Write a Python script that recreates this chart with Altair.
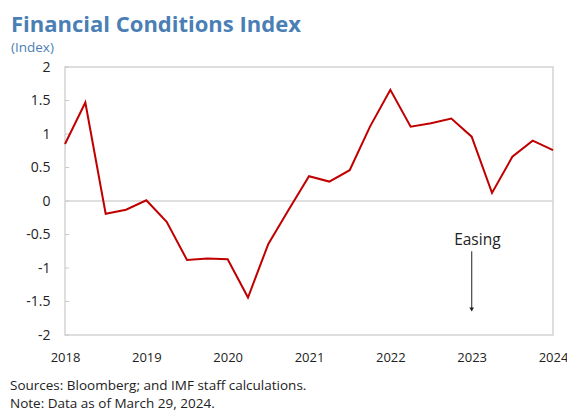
import altair as alt
import pandas as pd

# ---- data ----
quarters = [2018.0 + 0.25 * i for i in range(25)]
fci = [0.85, 1.47, -0.19, -0.13, 0.01, -0.31, -0.88, -0.86, -0.87, -1.44,
       -0.64, -0.13, 0.37, 0.29, 0.46, 1.11, 1.66, 1.11, 1.16, 1.23,
       0.96, 0.12, 0.66, 0.90, 0.76]
x_ticks = [2018, 2019, 2020, 2021, 2022, 2023, 2024]
y_ticks = [-2, -1.5, -1, -0.5, 0, 0.5, 1, 1.5, 2]

title_text = "Financial Conditions Index"
subtitle_text = "(Index)"
source_text = "Sources: Bloomberg; and IMF staff calculations."
note_text = "Note: Data as of March 29, 2024."
easing_text = ["Easing"]
easing_x = [2023.07]
easing_y = [-0.58]
arrow_x = [2023.0]
arrow_top = [-0.75]
arrow_bottom = [-1.62]

FONT = "Open Sans"
BLUE = "#4a7fb5"
GRAY = "#d4d4d4"

df = pd.DataFrame({"q": quarters, "v": fci})

xs = alt.Scale(domain=[2018, 2024], nice=False, zero=False)
ys = alt.Scale(domain=[-2, 2], nice=False, zero=False)

xaxis = alt.Axis(values=x_ticks, labelExpr="datum.value + ''",
                 ticks=False, domain=False, grid=False,
                 labelFont=FONT, labelFontSize=13, labelColor="#222",
                 labelPadding=16, labelFlush=False, labelOverlap=False)
yaxis = alt.Axis(values=y_ticks, labelExpr="datum.value + ''",
                 ticks=False, domain=False, grid=False,
                 labelFont=FONT, labelFontSize=14, labelColor="#222",
                 labelPadding=15, labelOverlap=False)

line = alt.Chart(df).mark_line(color="#c00000", strokeWidth=2).encode(
    x=alt.X("q:Q", scale=xs, title=None, axis=xaxis),
    y=alt.Y("v:Q", scale=ys, title=None, axis=yaxis),
)

zero = alt.Chart(pd.DataFrame({"z": [0]})).mark_rule(color=GRAY, strokeWidth=1.5).encode(
    y=alt.Y("z:Q", scale=ys, title=None, axis=yaxis)
)

ytick_marks = alt.Chart(pd.DataFrame({"t": y_ticks})).mark_rule(color="#c8c8c8", strokeWidth=1).encode(
    y=alt.Y("t:Q", scale=ys, title=None, axis=yaxis), x=alt.value(0), x2=alt.value(4)
)

arrow_df = pd.DataFrame({"x": arrow_x, "y1": arrow_top, "y2": arrow_bottom})
arrow_line = alt.Chart(arrow_df).mark_rule(color="#555555", strokeWidth=1.3).encode(
    x=alt.X("x:Q", scale=xs, title=None, axis=xaxis),
    y=alt.Y("y1:Q", scale=ys, title=None, axis=yaxis), y2="y2:Q"
)
arrow_head = alt.Chart(arrow_df).mark_point(
    shape="triangle-down", filled=True, color="#222222", size=22, opacity=1
).encode(x=alt.X("x:Q", scale=xs, title=None, axis=xaxis),
         y=alt.Y("y2:Q", scale=ys, title=None, axis=yaxis))

easing = alt.Chart(pd.DataFrame({"t": easing_text, "x": easing_x, "y": easing_y})).mark_text(
    font=FONT, fontSize=15.5, color="#222", align="center", baseline="middle"
).encode(x=alt.X("x:Q", scale=xs, title=None, axis=xaxis),
         y=alt.Y("y:Q", scale=ys, title=None, axis=yaxis), text="t:N")


def label(txt, x, y, size, color, weight="normal"):
    return alt.Chart(pd.DataFrame({"t": [txt]})).mark_text(
        font=FONT, fontSize=size, color=color, fontWeight=weight,
        align="left", baseline="alphabetic"
    ).encode(text="t:N", x=alt.value(x), y=alt.value(y))


title = label(title_text, -54, -35, 22, BLUE, "bold")
subtitle = label(subtitle_text, -54, -15, 13.5, BLUE)
source = label(source_text, -55, 323, 13.5, "#222")
note = label(note_text, -55, 341, 13.5, "#222")

chart = alt.layer(
    zero, ytick_marks, line, arrow_line, arrow_head, easing,
    title, subtitle, source, note
).properties(
    width=488, height=268,
    autosize=alt.AutoSizeParams(type="none"),
    padding={"left": 65, "top": 67, "right": 14, "bottom": 76},
    background="white",
).configure_view(stroke=GRAY, strokeWidth=1.5)

chart.save("out.html", embed_options={"renderer": "svg", "actions": False})
